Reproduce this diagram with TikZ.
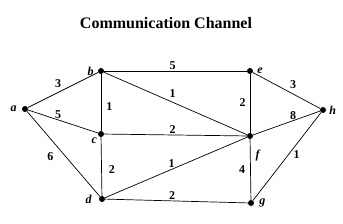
\documentclass[tikz,border=0pt]{standalone}
\usepackage{fontspec}
\setmainfont{Liberation Serif}
\usepackage{tikz}

\begin{document}
\begin{tikzpicture}[
  x=1pt, y=-1pt,
  vtx/.style={circle, fill=black, inner sep=0pt, minimum size=6pt},
  lbl/.style={font=\fontsize{12}{14}\selectfont\bfseries\itshape, inner sep=1pt},
  wt/.style={font=\fontsize{12}{14}\selectfont\bfseries, inner sep=1pt},
  edge/.style={line width=0.7pt}
]
\useasboundingbox (0,0) rectangle (343,223);

\node[font=\fontsize{16}{19}\selectfont\bfseries, anchor=base] (title) at (166,28) {Communication Channel};

\node[vtx, label={[lbl, label distance=4pt]left:a}] (a) at (25,109) {};
\node[vtx, label={[lbl, label distance=3pt]left:b}] (b) at (101,71) {};
\node[vtx, label={[lbl, label distance=1pt]below left:c}] (c) at (101,134) {};
\node[vtx, label={[lbl, label distance=6pt]left:d}] (d) at (102,199) {};
\node[vtx, label={[lbl, label distance=3pt]right:e}] (e) at (250,71) {};
\node[vtx, label={[lbl, label distance=10pt]-70:f}] (f) at (250,136) {};
\node[vtx, label={[lbl, label distance=4pt]right:g}] (g) at (251,203) {};
\node[vtx, label={[lbl, label distance=2pt]right:h}] (h) at (323,110) {};

\draw[edge] (a) -- node[wt, pos=0.43, above=3pt] {3} (b);
\draw[edge] (a) -- node[wt, pos=0.43, above] {5} (c);
\draw[edge] (a) -- node[wt, pos=0.53, left=11pt] {6} (d);
\draw[edge] (b) -- node[wt, pos=0.57, right=4pt] {1} (c);
\draw[edge] (c) -- node[wt, pos=0.55, right=6pt] {2} (d);
\draw[edge] (b) -- node[wt, pos=0.48, above] {5} (e);
\draw[edge] (b) -- node[wt, pos=0.48, above=3pt] {1} (f);
\draw[edge] (c) -- node[wt, pos=0.48, above] {2} (f);
\draw[edge] (d) -- node[wt, pos=0.47, above] {1} (f);
\draw[edge] (d) -- node[wt, pos=0.47, above] {2} (g);
\draw[edge] (e) -- node[wt, pos=0.48, left=3pt] {2} (f);
\draw[edge] (f) -- node[wt, pos=0.5, left=4pt] {4} (g);
\draw[edge] (e) -- node[wt, pos=0.6, above=4pt] {3} (h);
\draw[edge] (f) -- node[wt, pos=0.6, above] {8} (h);
\draw[edge] (g) -- node[wt, pos=0.52, right=4pt] {1} (h);

\end{tikzpicture}
\end{document}
